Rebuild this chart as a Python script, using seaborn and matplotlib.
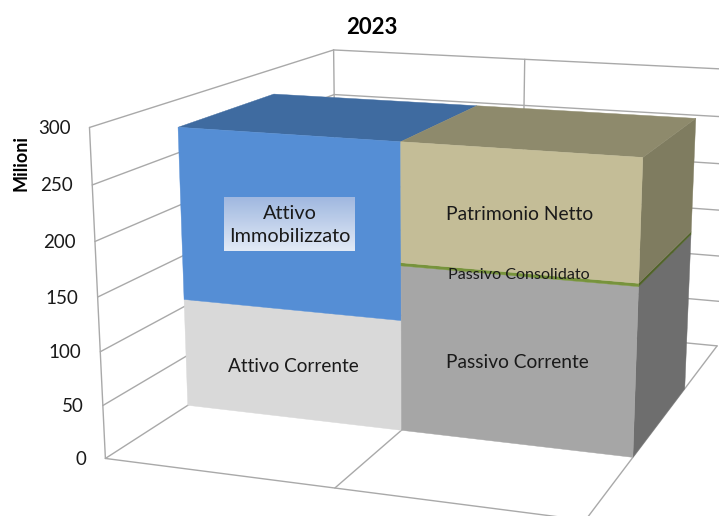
import numpy as np
import pandas as pd
import seaborn as sns
import matplotlib.pyplot as plt

title = '2023'
y_label = 'Milioni'
y_ticks = [0, 50, 100, 150, 200, 250, 300]

left_names = ['Attivo Corrente', 'Attivo Immobilizzato']
left_values = [107, 167]
right_names = ['Passivo Corrente', 'Passivo Consolidato', 'Patrimonio Netto']
right_values = [159, 3, 112]

front_colors = {'Attivo Corrente': '#d9d9d9', 'Attivo Immobilizzato': '#558ed5',
                'Passivo Corrente': '#a6a6a6', 'Passivo Consolidato': '#77933c',
                'Patrimonio Netto': '#c4bd97'}
top_colors = {'Attivo Immobilizzato': '#3f6ba0', 'Patrimonio Netto': '#8e8a6c'}
side_colors = {'Passivo Corrente': '#6e6e6e', 'Passivo Consolidato': '#4f6228',
               'Patrimonio Netto': '#7f7c60'}

# depth range of the columns inside the chart box (0 = front, 1 = back)
D0, D1 = 0.30, 0.70
H = 274

# (category pos, depth, value) -> pixel
anchors = [
    (0, 0, 0, 105, 459), (0, 0, 300, 89, 127), (0, 0, 250, 92, 185), (0, 0, 150, 98, 297),
    (0, 1, 300, 334, 49), (0, 1, 250, 334, 94), (1, 1, 300, 525, 59),
    (1, 0, 0, 335, 488), (2, 1, 0, 717, 347),
    (0, D0, 0, 188, 405), (1, D0, 0, 401, 430), (2, D0, 0, 633, 457),
    (2, D1, 0, 685, 388), (0, D0, H, 179, 128), (1, D0, H, 401, 142),
    (2, D0, H, 643, 157), (2, D1, H, 696, 119), (0, D1, H, 274, 95),
    (1, D1, H, 475, 106),
]


def fit_projection(points):
    pts = np.array(points, dtype=float)
    X = np.c_[pts[:, 0], pts[:, 1], pts[:, 2] / 300, np.ones(len(pts))]
    u, w = pts[:, 3] / 500, pts[:, 4] / 500
    weight = np.ones(len(pts))
    # reweight a few times so the error is in pixels
    for _ in range(8):
        rows = []
        for i in range(len(pts)):
            p = X[i] * weight[i]
            rows.append(np.r_[p, 0 * p, -u[i] * p])
            rows.append(np.r_[0 * p, p, -w[i] * p])
        _, _, vt = np.linalg.svd(np.array(rows))
        cam = vt[-1].reshape(3, 4)
        weight = 1 / np.abs(X @ cam[2])
    return cam


P = fit_projection(anchors)


def proj(x, d, v):
    h = P @ np.array([x, d, v / 300, 1])
    return h[0] / h[2] * 500, h[1] / h[2] * 500


def line(ax, a, b):
    pa, pb = proj(*a), proj(*b)
    ax.plot([pa[0], pb[0]], [pa[1], pb[1]], color='#a9a9a9', lw=1.0, zorder=1,
            solid_capstyle='round')


def face(ax, corners, color, z):
    pts = [proj(*c) for c in corners]
    ax.fill([p[0] for p in pts], [p[1] for p in pts], color=color, lw=0.3, zorder=z)


def draw_stack(ax, x0, x1, names, values, draw_side, z):
    df = pd.DataFrame({'name': names, 'value': values})
    df['top'] = df['value'].cumsum()
    df['bottom'] = df['top'] - df['value']
    total = df['top'].iloc[-1]
    for _, row in df.iterrows():
        b, t = row['bottom'], row['top']
        if draw_side:
            face(ax, [(x1, D0, b), (x1, D1, b), (x1, D1, t), (x1, D0, t)],
                 side_colors[row['name']], z)
        face(ax, [(x0, D0, b), (x1, D0, b), (x1, D0, t), (x0, D0, t)],
             front_colors[row['name']], z + 1)
    face(ax, [(x0, D0, total), (x1, D0, total), (x1, D1, total), (x0, D1, total)],
         top_colors[names[-1]], z)


sns.set_theme(style='white')
plt.rcParams['font.family'] = ['Lato', 'DejaVu Sans']

fig = plt.figure(figsize=(7.19, 5.16), dpi=100)
ax = fig.add_axes([0, 0, 1, 1])
ax.set_xlim(0, 719)
ax.set_ylim(516, 0)
ax.axis('off')

# walls and floor
for v in y_ticks:
    line(ax, (0, 0, v), (0, 1, v))
    line(ax, (0, 1, v), (2, 1, v))
line(ax, (0, 0, 0), (0, 0, 300))
line(ax, (0, 1, 0), (0, 1, 300))
line(ax, (1, 1, 0), (1, 1, 300))
line(ax, (0, 0, 0), (2, 0, 0))
for x in [1, 2]:
    line(ax, (x, 0, 0), (x, 1, 0))

draw_stack(ax, 0, 1, left_names, left_values, False, 3)
draw_stack(ax, 1, 2, right_names, right_values, True, 5)

# tick labels follow the front edge of the left wall
for v in y_ticks:
    px, py = proj(0, 0, v)
    ax.text(px - 19, py + 1, str(v), ha='right', va='center', fontsize=13.5, color='#1a1a1a')

ax.text(372, 27.5, title, ha='center', va='center', fontsize=16, fontweight='bold', color='black')
ax.text(21, 163, y_label, rotation=90, ha='center', va='center', fontsize=13,
        fontweight='bold', color='black')

# gradient box behind the blue label
gradient = np.linspace(0, 1, 64).reshape(-1, 1)
cmap = sns.blend_palette(['#a0b8e0', '#e2eaf6'], as_cmap=True)
ax.imshow(gradient, extent=(224, 355, 251, 197), cmap=cmap, aspect='auto', zorder=8)
ax.set_xlim(0, 719)
ax.set_ylim(516, 0)

label_kw = dict(ha='center', va='center', color='#1a1a1a', zorder=10)
ax.text(293, 366, 'Attivo Corrente', fontsize=13.7, **label_kw)
ax.text(290, 225, 'Attivo\nImmobilizzato', fontsize=14.3, linespacing=1.4, **label_kw)
ax.text(519.5, 214, 'Patrimonio Netto', fontsize=13.9, **label_kw)
ax.text(519, 275, 'Passivo Consolidato', fontsize=11.6, **label_kw)
ax.text(517, 362, 'Passivo Corrente', fontsize=13.8, **label_kw)

fig.savefig('out.png', dpi=100)
